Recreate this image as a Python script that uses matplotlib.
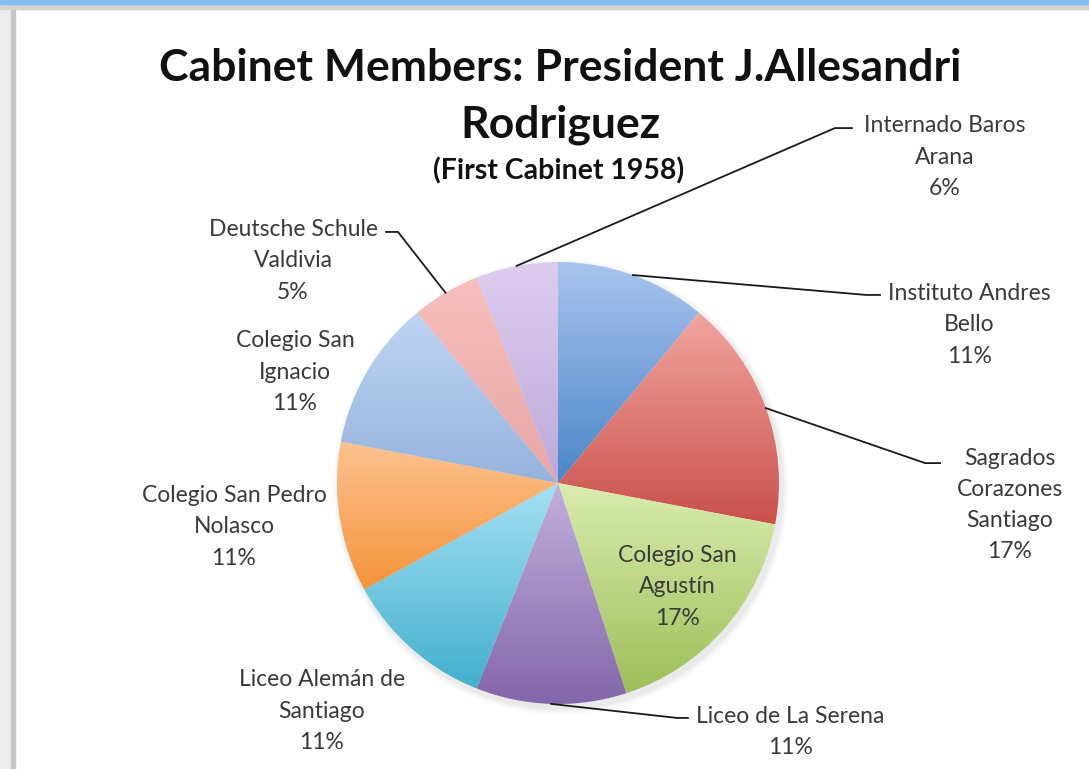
import numpy as np
import matplotlib
matplotlib.use('Agg')
import matplotlib.pyplot as plt
from matplotlib.colors import LinearSegmentedColormap
from matplotlib.patches import Rectangle, Circle

# schools, clockwise from 12 o'clock
schools = ['Instituto Andres\nBello', 'Sagrados\nCorazones\nSantiago', 'Colegio San\nAgustín',
           'Liceo de La Serena', 'Liceo Alemán de\nSantiago', 'Colegio San Pedro\nNolasco',
           'Colegio San\nIgnacio', 'Deutsche Schule\nValdivia', 'Internado Baros\nArana']
pct = [11, 17, 17, 11, 11, 11, 11, 5, 6]

top_cols = ['#a9c4ee', '#f2a5a0', '#daedb0', '#c2b0dc', '#a5e0f5', '#fdc290', '#bfd5f5', '#f7c0bd', '#decdf0']
bot_cols = ['#4a86c8', '#c9504b', '#9dbe58', '#8466aa', '#43b0cc', '#f5943a', '#96b2dc', '#e6a6a5', '#bca9d8']

# label centres (pie units, radius 1) and leader elbows (None = no leader)
lab_pos = [(1.86, 0.715), (2.045, -0.10), (0.54, -0.47), (1.05, -1.127), (-1.068, -1.032),
           (-1.466, -0.199), (-1.19, 0.502), (-1.199, 1.005), (1.751, 1.475)]
elbows = [((1.394, 0.851), (1.457, 0.851)), ((1.661, 0.09), (1.729, 0.09)), None,
          ((0.538, -1.063), (0.588, -1.063)), None, None, None,
          ((-0.724, 1.136), (-0.778, 1.136)), ((1.253, 1.606), (1.33, 1.606))]

W, H = 1089, 769
cx, cy, R = 558, 483, 221

fig = plt.figure(figsize=(W / 100, H / 100), dpi=100)
ax = fig.add_axes([0, 0, 1, 1])
ax.axis('off')

font = 'Lato'

# soft shadow
for k, a in [(1.03, 0.04), (1.02, 0.05), (1.01, 0.07)]:
    ax.add_patch(Circle((0.012, -0.018), k, color='#808080', alpha=a, lw=0, zorder=0))

wedges, _ = ax.pie(pct, startangle=90, counterclock=False, radius=1,
                   wedgeprops=dict(linewidth=0))

grad = np.linspace(0, 1, 256)[:, None]
for w, c0, c1 in zip(wedges, top_cols, bot_cols):
    bb = w.get_path().get_extents()
    cmap = LinearSegmentedColormap.from_list('g', [c1, c0])
    im = ax.imshow(grad, extent=(bb.x0, bb.x1, bb.y0, bb.y1), origin='lower', cmap=cmap,
                   aspect='auto', interpolation='bicubic', zorder=1)
    im.set_clip_path(w)
    w.set_facecolor('none')

# labels and leader lines
start = 90.0
for name, p, pos, el in zip(schools, pct, lab_pos, elbows):
    mid = np.deg2rad(start - p * 3.6 / 2)
    start -= p * 3.6
    ax.text(pos[0], pos[1], '%s\n%d%%' % (name, p), ha='center', va='center',
            fontsize=16.5, family=font, color='#3a3a3a', linespacing=1.6, zorder=5)
    if el is not None:
        ax.plot([np.cos(mid), el[0][0], el[1][0]], [np.sin(mid), el[0][1], el[1][1]],
                color='#1a1a1a', lw=1.3, zorder=4)

ax.set_aspect('equal')
ax.set_xlim(-cx / R, (W - cx) / R)
ax.set_ylim(-(H - cy) / R, cy / R)

# titles
fig.text(560 / W, 1 - 68 / H, 'Cabinet Members: President J.Allesandri', ha='center', va='center',
         fontsize=32, fontweight='bold', family=font, color='#111111')
fig.text(560 / W, 1 - 125 / H, 'Rodriguez', ha='center', va='center',
         fontsize=32, fontweight='bold', family=font, color='#111111')
fig.text(559 / W, 1 - 171 / H, '(First Cabinet 1958)', ha='center', va='center',
         fontsize=20.5, fontweight='bold', family=font, color='#111111')

# window frame
fig.patches.append(Rectangle((0, 0), 11 / W, 1, transform=fig.transFigure, color='#ececec', zorder=0))
fig.patches.append(Rectangle((11 / W, 0), 4 / W, 1, transform=fig.transFigure, color='#c6c6c6', zorder=0))
fig.patches.append(Rectangle((0, 1 - 9 / H), 1, 5 / H, transform=fig.transFigure, color='#d2d2d2', zorder=0))
fig.patches.append(Rectangle((0, 1 - 4 / H), 1, 4 / H, transform=fig.transFigure, color='#86bdf0', zorder=0))

fig.savefig('out.png', dpi=100)
